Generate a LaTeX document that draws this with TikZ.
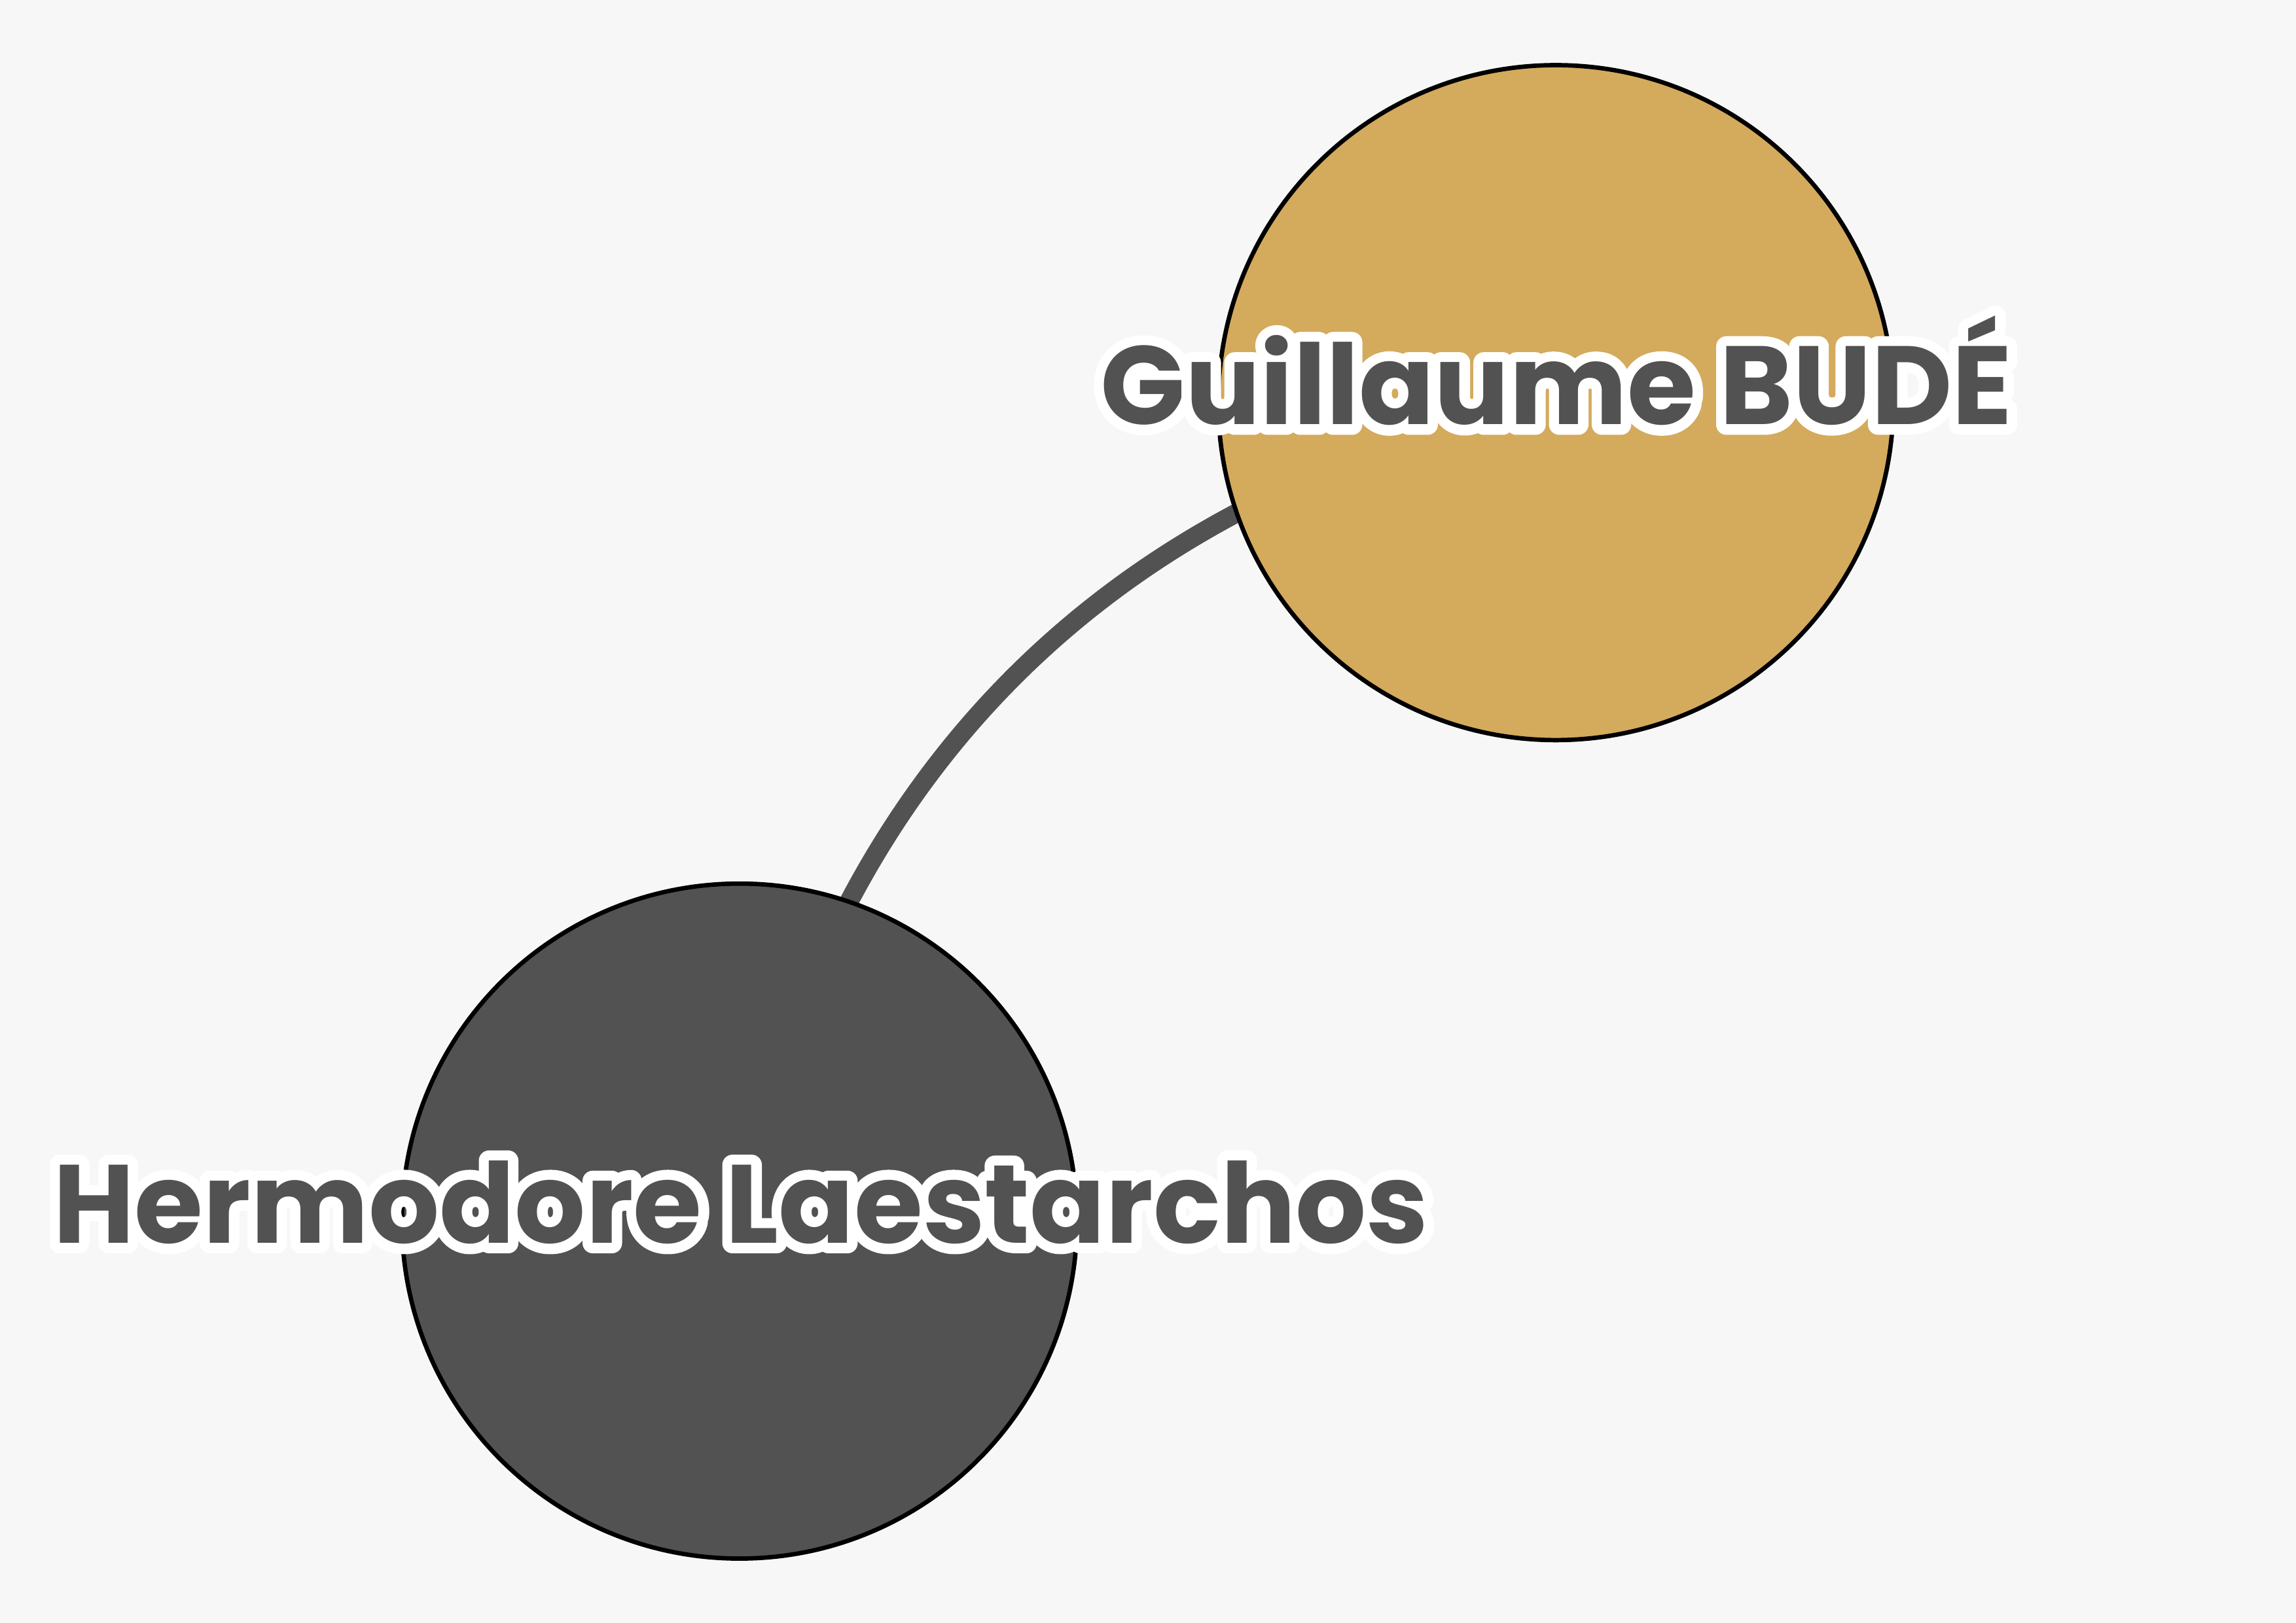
\documentclass[tikz,border=0pt]{standalone}
\usepackage{fontspec}
\newfontfamily\labfont{Poppins}
\definecolor{bgcol}{HTML}{F7F7F7}
\definecolor{goldcol}{HTML}{D4AA5C}
\definecolor{darkcol}{HTML}{525252}
\newcommand\haloname[1]{\rlap{\special{pdf:literal direct 1 Tr 14 w 1 j 1 1 1 RG}#1\special{pdf:literal direct 0 Tr}}#1}
\pgfdeclarelayer{bglayer}
\pgfdeclarelayer{edgelayer}
\pgfsetlayers{bglayer,edgelayer,main}
\tikzset{
  person/.style={circle, draw=black, line width=3pt, minimum size=461pt, inner sep=0pt},
  link/.style={draw=darkcol, line width=13pt},
  namelabel/.style={anchor=base, inner sep=0pt, text=darkcol, font=\labfont\bfseries\fontsize{76}{80}\selectfont}
}
\begin{document}
\begin{tikzpicture}[x=1pt,y=1pt]
\begin{pgfonlayer}{bglayer}
\fill[bgcol] (0,0) rectangle (1568,1108.5);
\end{pgfonlayer}
\useasboundingbox (0,0) rectangle (1568,1108.5);
\node[person, fill=goldcol] (gold) at (1062.5,833.5) {};
\node[person, fill=darkcol] (dark) at (505,274.5) {};
\begin{pgfonlayer}{edgelayer}
\draw[link] (dark.center) to[bend left=34] (gold.center);
\end{pgfonlayer}
\node[namelabel] (goldlabel) at (1063,818.5) {\haloname{Guillaume BUDÉ}};
\node[namelabel] (darklabel) at (506,259.5) {\haloname{Hermodore Laestarchos}};
\end{tikzpicture}
\end{document}
